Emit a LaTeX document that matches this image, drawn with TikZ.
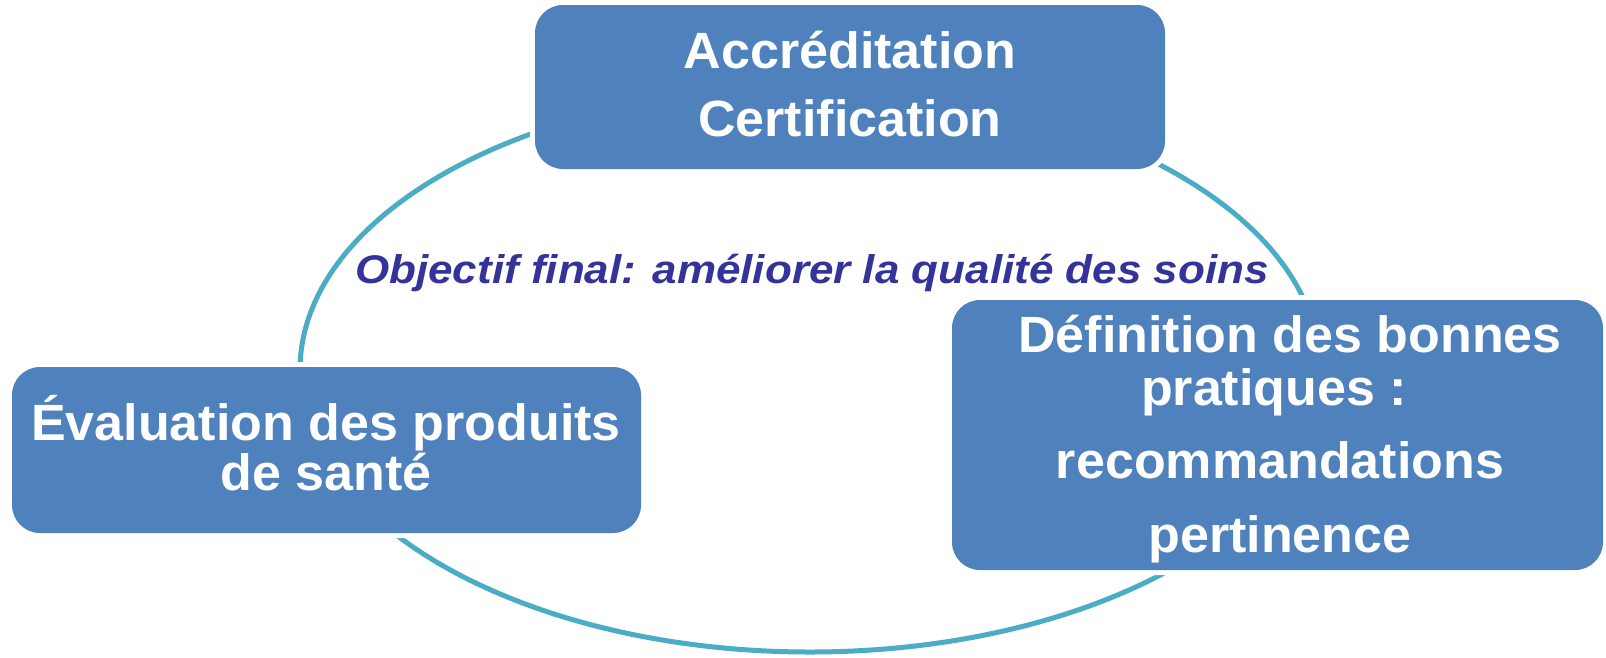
\documentclass[tikz,border=0pt]{standalone}
\usepackage{fontspec}
\setmainfont{Liberation Sans}
\newfontfamily\boxfont[FakeStretch=1.02]{Liberation Sans}
\newfontfamily\goalfont[FakeStretch=1.1]{Liberation Sans}
\definecolor{boxblue}{HTML}{4F81BD}
\definecolor{ringteal}{HTML}{4BACC6}
\definecolor{goalblue}{HTML}{333399}
\tikzset{
  stagebox/.style={rectangle, rounded corners=28pt, fill=boxblue,
    preaction={draw=white, line width=10pt}, inner sep=0pt},
  stagetext/.style={anchor=base, text=white, inner sep=0pt,
    font=\boxfont\bfseries\fontsize{51}{57}\selectfont},
  goaltext/.style={anchor=base, text=goalblue, inner sep=0pt,
    font=\goalfont\bfseries\itshape\fontsize{40}{46}\selectfont},
  ring/.style={draw=ringteal, line width=5pt}
}
\begin{document}
\begin{tikzpicture}[x=1pt, y=-1pt]
\useasboundingbox (0,0) rectangle (1606,657);

% cycle ring behind the three stages
\draw[ring] (810,370) ellipse [x radius=510, y radius=282];

% stages
\node[stagebox, minimum width=630pt, minimum height=164pt] (accr) at (850,87) {};
\node[stagebox, minimum width=629pt, minimum height=166pt] (eval) at (326.5,450) {};
\node[stagebox, minimum width=651pt, minimum height=270pt] (def) at (1277.5,435) {};

% stage labels
\node[stagetext] (accr1) at (850,68) {Accréditation};
\node[stagetext] (accr2) at (850,136) {Certification};

\node[stagetext] (eval1) at (326,440) {Évaluation des produits};
\node[stagetext] (eval2) at (326,490) {de santé};

\node[stagetext] (def1) at (1290,352) {Définition des bonnes};
\node[stagetext] (def2) at (1274,405) {pratiques :};
\node[stagetext] (def3) at (1280,478) {recommandations};
\node[stagetext] (def4) at (1280,552) {pertinence};

% overall goal
\node[goaltext] (goal) at (812,283) {Objectif final: améliorer la qualité des soins};
\end{tikzpicture}
\end{document}
